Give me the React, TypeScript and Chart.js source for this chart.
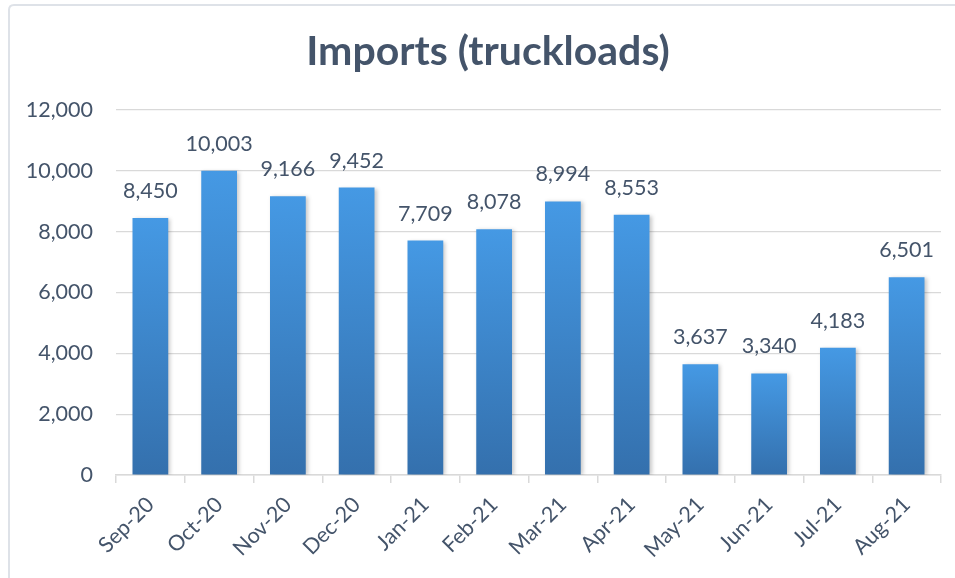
import React, { useEffect, useRef } from "react";
import { Chart, registerables } from "chart.js";

Chart.register(...registerables);

const categories = ["Sep-20", "Oct-20", "Nov-20", "Dec-20", "Jan-21", "Feb-21", "Mar-21", "Apr-21", "May-21", "Jun-21", "Jul-21", "Aug-21"];
const imports = [8450, 10003, 9166, 9452, 7709, 8078, 8994, 8553, 3637, 3340, 4183, 6501];
const yTicks = [0, 2000, 4000, 6000, 8000, 10000, 12000];
const titleText = "Imports (truckloads)";

const TEXT = "#44546A";
const GRID = "#D9D9D9";
const FONT = "Lato, 'Open Sans', sans-serif";

const fmt = (v: number) => v.toLocaleString("en-US");

const framePlugin = {
  id: "frame",
  beforeDraw(chart: any) {
    const c = chart.ctx;
    c.save();
    c.strokeStyle = "#DEE2E8";
    c.lineWidth = 2;
    c.beginPath();
    c.moveTo(9, 700);
    c.lineTo(9, 10);
    c.quadraticCurveTo(9, 5, 14, 5);
    c.lineTo(1000, 5);
    c.stroke();
    c.fillStyle = TEXT;
    c.font = `bold 41px ${FONT}`;
    c.textAlign = "center";
    c.textBaseline = "alphabetic";
    c.fillText(titleText, 488, 65);
    c.restore();
  },
};

const shadowPlugin = {
  id: "barShadow",
  beforeDatasetsDraw(chart: any) {
    const c = chart.ctx;
    c.save();
    c.shadowColor = "rgba(0,0,0,0.22)";
    c.shadowBlur = 4;
    c.shadowOffsetX = 2;
    c.shadowOffsetY = 1;
  },
  afterDatasetsDraw(chart: any) {
    chart.ctx.restore();
  },
};

const labelPlugin = {
  id: "valueLabels",
  afterDatasetsDraw(chart: any) {
    const c = chart.ctx;
    const meta = chart.getDatasetMeta(0);
    c.save();
    c.fillStyle = TEXT;
    c.font = `21.5px ${FONT}`;
    c.textAlign = "center";
    c.textBaseline = "alphabetic";
    meta.data.forEach((el: any, i: number) => {
      c.fillText(fmt(imports[i]), el.x, el.y - 20);
    });
    c.restore();
  },
};

export default function App() {
  const ref = useRef<HTMLCanvasElement>(null);
  useEffect(() => {
    if (!ref.current) return;
    const chart = new Chart(ref.current, {
      type: "bar",
      data: {
        labels: categories,
        datasets: [
          {
            data: imports,
            backgroundColor: (ctx: any) => {
              const ch = ctx.chart;
              if (!ch.chartArea || ctx.raw == null) return "#3D85CC";
              const ys = ch.scales.y;
              const top = ys.getPixelForValue(ctx.raw);
              const bottom = ys.getPixelForValue(0);
              const g = ch.ctx.createLinearGradient(0, top, 0, bottom);
              g.addColorStop(0, "#4599E4");
              g.addColorStop(1, "#3470AD");
              return g;
            },
            borderWidth: 0,
            barPercentage: 0.52,
            categoryPercentage: 1,
          },
        ],
      },
      options: {
        responsive: false,
        animation: false,
        layout: { padding: { left: 0, right: 14, top: 110, bottom: 0 } },
        plugins: {
          legend: { display: false },
          tooltip: { enabled: false },
          title: { display: false },
        },
        scales: {
          x: {
            grid: { drawOnChartArea: false, drawTicks: true, tickLength: 8, color: GRID, lineWidth: 1.5, offset: true },
            border: { color: GRID, width: 1.5 },
            ticks: {
              color: TEXT,
              font: { family: FONT, size: 21.5 },
              minRotation: 45,
              maxRotation: 45,
              padding: 9,
            },
            afterFit: (s: any) => {
              s.height = 103;
            },
          },
          y: {
            min: 0,
            max: 12000,
            afterBuildTicks: (s: any) => {
              s.ticks = yTicks.map((v) => ({ value: v }));
            },
            grid: { color: GRID, lineWidth: 1.2, drawTicks: false },
            border: { display: false },
            ticks: {
              color: TEXT,
              font: { family: FONT, size: 21.5 },
              padding: 23,
              callback: (v: any) => fmt(Number(v)),
            },
            afterFit: (s: any) => {
              s.width = 116;
            },
          },
        },
      },
      plugins: [framePlugin, shadowPlugin, labelPlugin],
    });
    return () => chart.destroy();
  }, []);
  return (
    <div style={{ position: "fixed", left: 0, top: 0, width: 955, height: 578, background: "#fff" }}>
      <canvas ref={ref} width={955} height={578} />
    </div>
  );
}
